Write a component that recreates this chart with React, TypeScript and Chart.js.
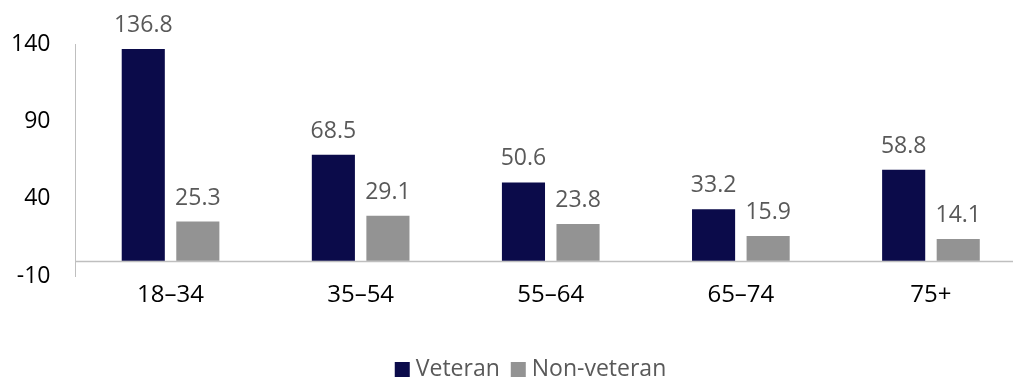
import React, { useEffect, useRef } from "react";
import { Chart, registerables } from "chart.js";

Chart.register(...registerables);

const categories = ["18–34", "35–54", "55–64", "65–74", "75+"];
const veteran = [136.8, 68.5, 50.6, 33.2, 58.8];
const nonVeteran = [25.3, 29.1, 23.8, 15.9, 14.1];
const yTicks = [-10, 40, 90, 140];
const seriesNames = ["Veteran", "Non-veteran"];
const seriesColors = ["#0b0b4a", "#939393"];

const FONT = "'Open Sans', 'Noto Sans', sans-serif";

const dataLabelPlugin = {
  id: "dataLabels",
  afterDatasetsDraw(chart: any) {
    const ctx = chart.ctx;
    ctx.save();
    ctx.font = `23px ${FONT}`;
    ctx.fillStyle = "#595959";
    ctx.textAlign = "center";
    ctx.textBaseline = "alphabetic";
    chart.data.datasets.forEach((ds: any, i: number) => {
      const meta = chart.getDatasetMeta(i);
      meta.data.forEach((el: any, j: number) => {
        ctx.fillText(String(ds.data[j].toFixed(1)), el.x, el.y - 17);
      });
    });
    ctx.restore();
  },
};

const zeroLinePlugin = {
  id: "zeroLine",
  beforeDatasetsDraw(chart: any) {
    const { ctx, chartArea, scales } = chart;
    const y = Math.round(scales.y.getPixelForValue(0)) + 0.5;
    ctx.save();
    ctx.strokeStyle = "#bfbfbf";
    ctx.lineWidth = 1.5;
    ctx.beginPath();
    ctx.moveTo(chartArea.left, y);
    ctx.lineTo(chartArea.right, y);
    ctx.stroke();
    ctx.restore();
  },
};

const legendPlugin = {
  id: "customLegend",
  afterDraw(chart: any) {
    const ctx = chart.ctx;
    ctx.save();
    ctx.font = `23px ${FONT}`;
    const box = 15;
    const gapText = 6;
    const gapItem = 11;
    const widths = seriesNames.map((n) => box + gapText + ctx.measureText(n).width);
    const total = widths.reduce((a, b) => a + b, 0) + gapItem * (seriesNames.length - 1);
    let x = 530.5 - total / 2;
    const cy = 369.5;
    seriesNames.forEach((n, i) => {
      ctx.fillStyle = seriesColors[i];
      ctx.fillRect(x, cy - box / 2, box, box);
      ctx.fillStyle = "#595959";
      ctx.textAlign = "left";
      ctx.textBaseline = "middle";
      ctx.fillText(n, x + box + gapText, cy);
      x += widths[i] + gapItem;
    });
    ctx.restore();
  },
};

export default function App() {
  const ref = useRef<HTMLCanvasElement | null>(null);
  useEffect(() => {
    if (!ref.current) return;
    const chart = new Chart(ref.current, {
      type: "bar",
      data: {
        labels: categories,
        datasets: [
          {
            label: seriesNames[0],
            data: veteran,
            backgroundColor: seriesColors[0],
            categoryPercentage: 0.574,
            barPercentage: 0.79,
          },
          {
            label: seriesNames[1],
            data: nonVeteran,
            backgroundColor: seriesColors[1],
            categoryPercentage: 0.574,
            barPercentage: 0.79,
          },
        ],
      },
      options: {
        animation: false,
        responsive: false,
        maintainAspectRatio: false,
        layout: { padding: { top: 44, left: 0, right: 0, bottom: 64 } },
        plugins: {
          legend: { display: false },
          tooltip: { enabled: false },
        },
        scales: {
          x: {
            grid: { display: false, drawTicks: false },
            border: { display: false },
            ticks: {
              color: "#000000",
              font: { family: FONT, size: 24 },
              padding: 5,
              maxRotation: 0,
            },
          },
          y: {
            min: -10,
            max: 140,
            afterBuildTicks: (scale: any) => {
              scale.ticks = yTicks.map((v) => ({ value: v }));
            },
            afterFit: (scale: any) => {
              scale.width = 75.5;
            },
            grid: { display: true, color: "rgba(0,0,0,0)", drawTicks: false },
            border: { display: true, color: "#bfbfbf", width: 1 },
            ticks: {
              color: "#000000",
              font: { family: FONT, size: 23 },
              padding: 25,
            },
          },
        },
      },
      plugins: [zeroLinePlugin, dataLabelPlugin, legendPlugin],
    });
    return () => chart.destroy();
  }, []);
  return (
    <div
      style={{
        position: "absolute",
        left: 0,
        top: 0,
        width: 1013,
        height: 379,
        overflow: "hidden",
        background: "#ffffff",
      }}
    >
      <canvas ref={ref} width={1026} height={379} style={{ display: "block" }} />
    </div>
  );
}
